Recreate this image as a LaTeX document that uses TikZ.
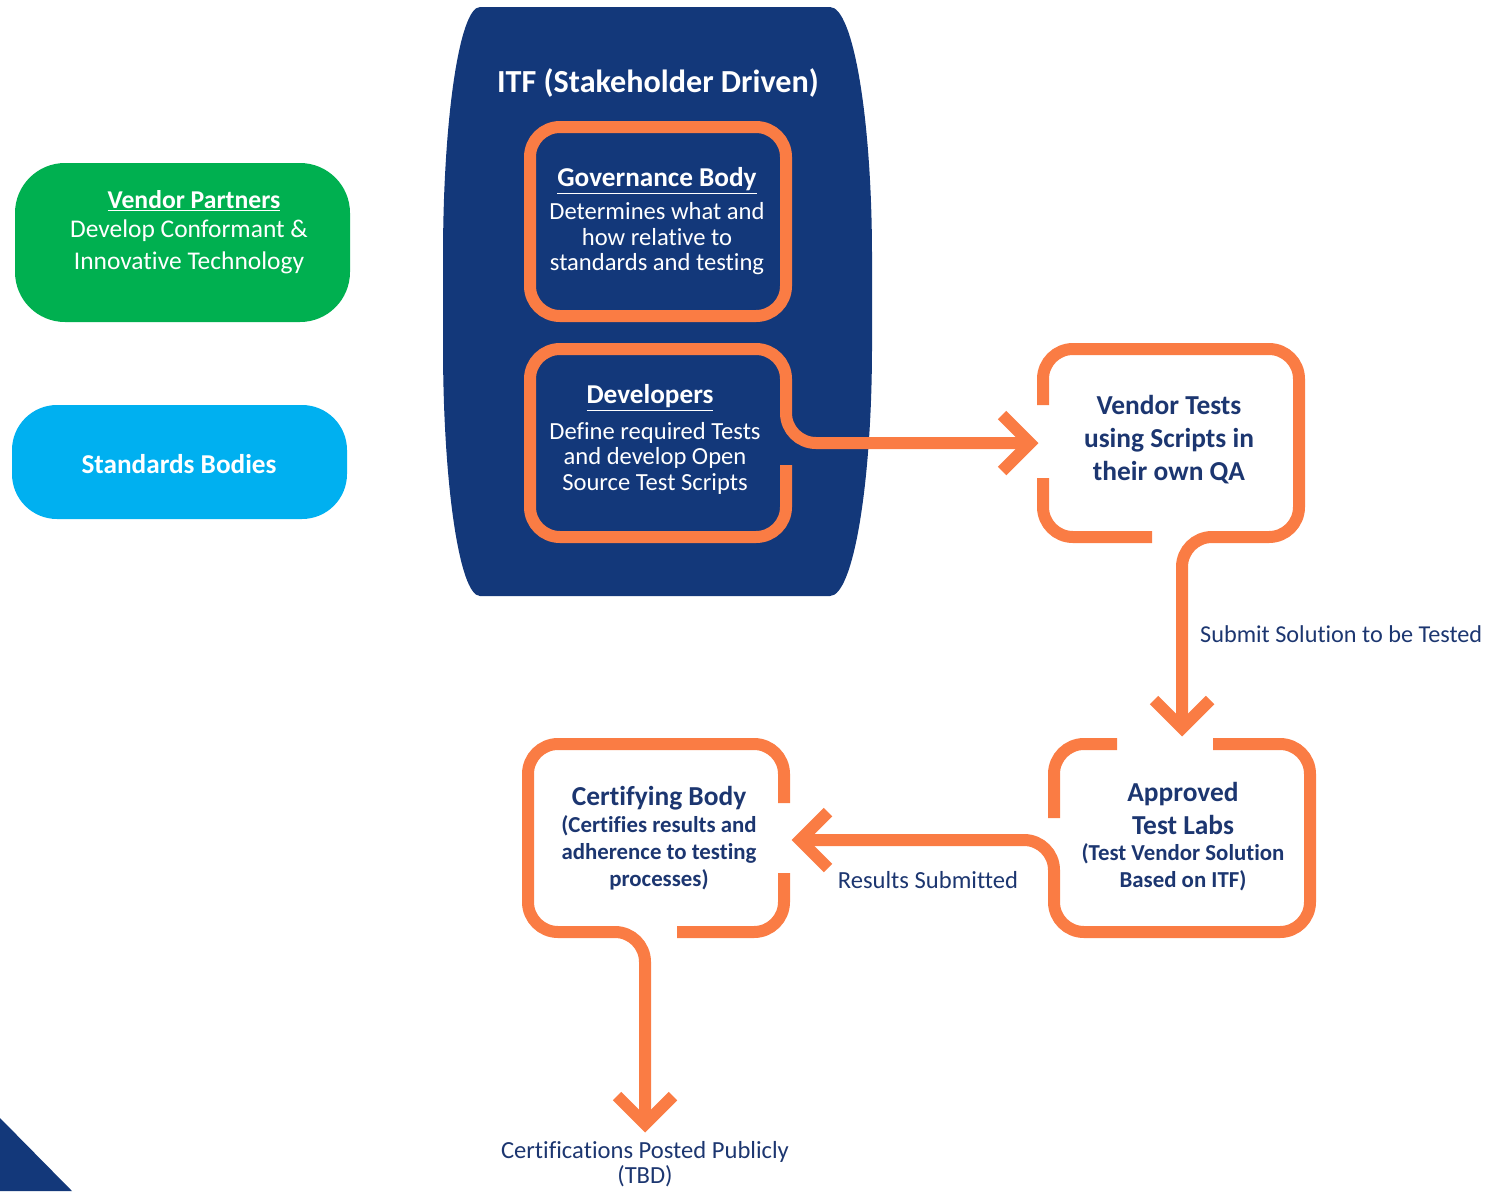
\documentclass[tikz,border=0pt]{standalone}
\usepackage{fontspec}
\setmainfont{Carlito}[Ligatures=NoCommon]
\usepackage{xcolor}
\usepackage{tikz}

\definecolor{itfblue}{RGB}{19,56,122}
\definecolor{itforange}{RGB}{250,124,68}
\definecolor{itfnavy}{RGB}{28,54,112}
\definecolor{vpgreen}{RGB}{0,176,80}
\definecolor{sbcyan}{RGB}{0,176,240}

\tikzset{
  orangeline/.style={draw=itforange, line width=0.24cm, rounded corners=0.6cm},
  chevron/.style={draw=itforange, line width=0.24cm, line join=miter},
  headw/.style={text=white, align=center, font=\bfseries\fontsize{15.5}{18}\selectfont},
  bodyw/.style={text=white, align=center, font=\fontsize{14}{14.5}\selectfont},
  headn/.style={text=itfnavy, align=center, font=\bfseries\fontsize{15.6}{18.8}\selectfont},
  subn/.style={text=itfnavy, align=center, font=\bfseries\fontsize{13}{15.4}\selectfont},
  labeln/.style={text=itfnavy, align=center, font=\fontsize{14}{14.8}\selectfont},
}

\begin{document}
\begin{tikzpicture}[x=0.02cm, y=-0.02cm]

\useasboundingbox (0,0) rectangle (1491,1191);

% left boxes
\fill[vpgreen, rounded corners=1cm] (15,163) rectangle (350,322);
\fill[sbcyan, rounded corners=0.9cm] (12,405) rectangle (347,519);
\node[headw, font=\bfseries\fontsize{14.6}{17}\selectfont] (vp) at (194,201) {\underline{Vendor Partners}};
\node[bodyw, font=\fontsize{14.5}{17.9}\selectfont] (vptext) at (189,247) {Develop Conformant \&\\Innovative Technology};
\node[headw] (sb) at (179,464) {Standards Bodies};

% corner triangle
\fill[itfblue] (0,1118) -- (72,1191) -- (0,1191) -- cycle;

% ITF body
\fill[itfblue] (480,7) -- (830,7) arc (-90:0:42 and 250) -- (872,346) arc (0:90:42 and 250)
  -- (480,596) arc (90:180:37 and 250) -- (443,257) arc (180:270:37 and 250) -- cycle;
\node[headw, font=\bfseries\fontsize{18.3}{21}\selectfont] (itf) at (658,83) {ITF (Stakeholder Driven)};

% governance body
\draw[orangeline] (530,127) rectangle (786,316);
\node[headw] (gov) at (657,181) {\underline{Governance Body}};
\node[bodyw] (govtext) at (657,239) {Determines what and\\how relative to\\standards and testing};

% developers
\coordinate (vtin) at (1030,443);
\draw[orangeline] (786,465) -- (786,537) -- (530,537) -- (530,349) -- (786,349) -- (786,443) -- (vtin);
\draw[chevron] (1002,415) -- (vtin) -- (1002,471);
\node[headw] (dev) at (650,398) {\underline{Developers}};
\node[bodyw] (devtext) at (655,458) {Define required Tests\\and develop Open\\Source Test Scripts};

% vendor tests
\coordinate (atlin) at (1182,728);
\draw[orangeline] (1043,405) -- (1043,349) -- (1299,349) -- (1299,537) -- (1182,537) -- (atlin);
\draw[orangeline] (1152,537) -- (1043,537) -- (1043,478);
\draw[chevron] (1154,700) -- (atlin) -- (1210,700);
\node[headn] (vt) at (1169,440) {Vendor Tests\\using Scripts in\\their own QA};
\node[labeln, anchor=west, font=\fontsize{13.8}{14.8}\selectfont] (submit) at (1194,634) {Submit Solution to be Tested};

% approved test labs
\coordinate (cbin) at (800,840);
\draw[orangeline] (1117,744) -- (1054,744) -- (1054,818);
\draw[orangeline] (1213,744) -- (1310,744) -- (1310,932) -- (1054,932) -- (1054,840) -- (cbin);
\draw[chevron] (828,812) -- (cbin) -- (828,868);
\node[headn] (atl) at (1183,808) {Approved\\Test Labs};
\node[subn] (atlsub) at (1183,867) {(Test Vendor Solution\\Based on ITF)};
\node[labeln] (results) at (928,880) {Results Submitted};

% certifying body
\coordinate (postin) at (645,1124);
\draw[orangeline] (784,803) -- (784,744) -- (528,744) -- (528,932) -- (645,932) -- (postin);
\draw[orangeline] (784,873) -- (784,932) -- (677,932);
\draw[chevron] (617,1096) -- (postin) -- (673,1096);
\node[headn] (cb) at (659,798) {Certifying Body};
\node[subn] (cbsub) at (659,853) {(Certifies results and\\adherence to testing\\processes)};
\node[labeln, font=\fontsize{14}{14.2}\selectfont] (posted) at (645,1164) {Certifications Posted Publicly\\(TBD)};

\end{tikzpicture}
\end{document}
